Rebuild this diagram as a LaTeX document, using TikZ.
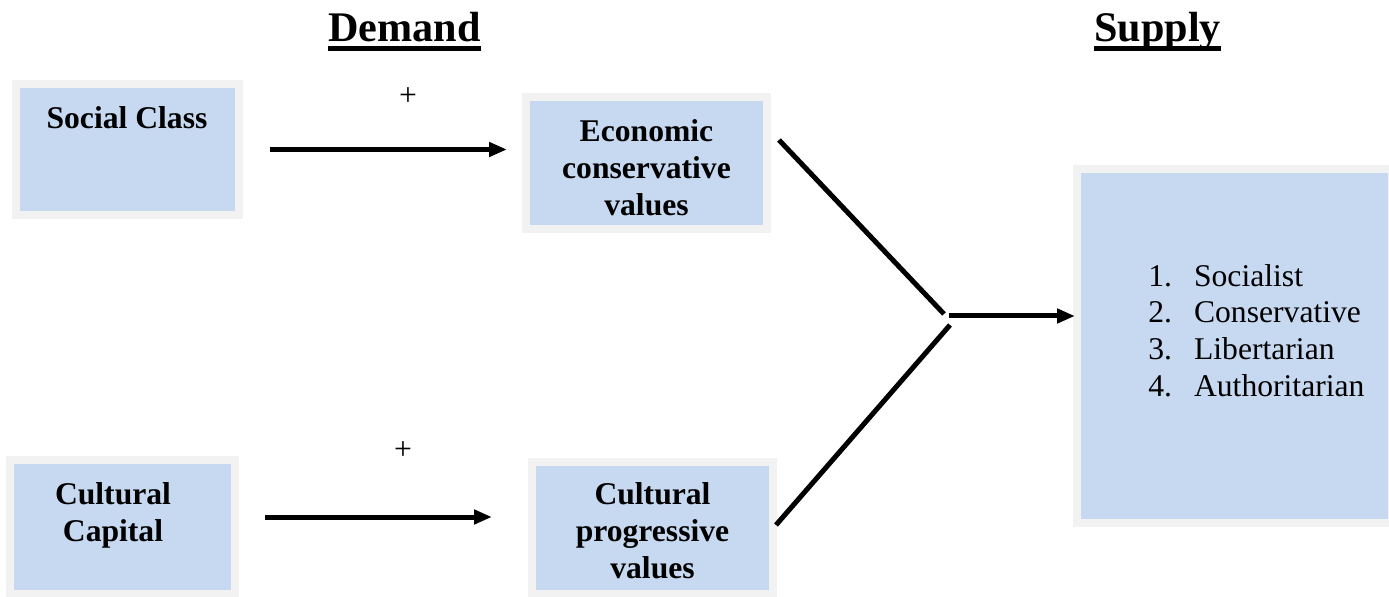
\documentclass[tikz,border=0pt]{standalone}
\usepackage{fontspec}
\setmainfont{Liberation Serif}
\usetikzlibrary{arrows.meta, positioning, calc}
\definecolor{boxblue}{RGB}{198, 217, 240}
\definecolor{boxgray}{RGB}{242, 242, 242}
\newlength{\headwd}
\newcommand{\headul}[1]{\settowidth{\headwd}{#1}\rlap{#1}\rule[-5pt]{\headwd}{3pt}}

\begin{document}
\begin{tikzpicture}[
  box/.style={draw=boxgray, line width=0.16cm, fill=boxblue, inner sep=0pt, outer sep=0pt},
  boxtext/.style={font=\fontsize{18pt}{21pt}\selectfont\bfseries, align=center, inner sep=0pt},
  listtext/.style={font=\fontsize{18pt}{21pt}\selectfont, inner sep=0pt},
  title/.style={font=\fontsize{24pt}{28pt}\selectfont\bfseries, inner sep=0pt, anchor=base},
  plus/.style={font=\fontsize{18pt}{21pt}\selectfont, inner sep=0pt},
  link/.style={line width=0.1cm},
  flow/.style={link, -{Triangle[length=0.36cm, width=0.28cm]}}
]
  \useasboundingbox (0, 0) rectangle (27.78, 11.92);

  % Titles
  \node[title] (demand) at (8.09, 11.08) {\headul{Demand}};
  \node[title] (supplytitle) at (23.15, 11.08) {\headul{Supply}};

  % Demand side
  \node[box, minimum width=4.46cm, minimum height=2.62cm] (class) at (2.55, 8.93) {};
  \node[boxtext, anchor=base] (classtxt) at (2.54, 9.34) {Social Class};
  \node[box, minimum width=4.5cm, minimum height=2.68cm] (capital) at (2.45, 1.38) {};
  \node[boxtext] (capitaltxt) at (2.26, 1.61) {Cultural\\Capital};

  \node[box, minimum width=4.82cm, minimum height=2.64cm] (econ) at (12.93, 8.66) {};
  \node[boxtext] (econtxt) at (12.93, 8.56) {Economic\\conservative\\values};
  \node[box, minimum width=4.82cm, minimum height=2.64cm] (prog) at (13.05, 1.36) {};
  \node[boxtext] (progtxt) at (13.05, 1.30) {Cultural\\progressive\\values};

  \node[plus] (plusecon) at (8.16, 9.98) {+};
  \node[plus] (plusprog) at (8.06, 2.90) {+};

  % Supply side
  \node[box, minimum width=6.3cm, minimum height=7.08cm] (supply) at (24.69, 5.0) {};
  \node[listtext, anchor=west] (parties) at (22.96, 5.24) {%
    \begin{tabular}{@{}l@{\hspace{0.44cm}}l@{}}
      1. & Socialist\\
      2. & Conservative\\
      3. & Libertarian\\
      4. & Authoritarian
    \end{tabular}};

  % Arrows
  \draw[flow, shorten <=0.62cm, shorten >=0.38cm] (class.east) -- (class.east -| econ.west);
  \draw[flow, shorten <=0.6cm, shorten >=0.8cm] ($(capital.east)+(0, 0.2)$) -- ($(capital.east -| prog.west)+(0, 0.2)$);

  \coordinate (join) at (18.94, 5.6);
  \draw[link] ($(econ.east)+(0.24, 0.46)$) -- ($(join)+(-0.06, 0.04)$);
  \draw[link] ($(prog.east)+(0.06, 0.06)$) -- ($(join)+(0.06, -0.18)$);
  \draw[flow, shorten >=0.04cm] ($(join)+(0.04, 0)$) -- (join -| supply.west);
\end{tikzpicture}
\end{document}
